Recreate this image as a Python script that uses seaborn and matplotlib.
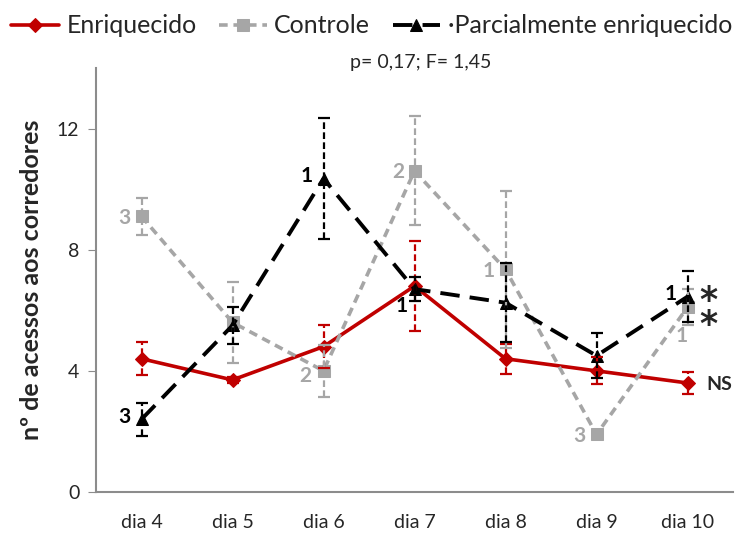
import numpy as np
import pandas as pd
import matplotlib
matplotlib.use('Agg')
import matplotlib.pyplot as plt
import seaborn as sns

sns.set_style('white')
plt.rcParams['font.family'] = ['Lato', 'DejaVu Sans']

# dados
dias = ['dia 4', 'dia 5', 'dia 6', 'dia 7', 'dia 8', 'dia 9', 'dia 10']
enriquecido = [4.4, 3.7, 4.8, 6.8, 4.4, 4.0, 3.6]
enriquecido_err = [0.55, 0.1, 0.7, 1.5, 0.5, 0.45, 0.35]
controle = [9.1, 5.6, 4.0, 10.6, 7.35, 1.9, 6.1]
controle_err = [0.6, 1.35, 0.85, 1.8, 2.6, 0.1, 0.6]
parcial = [2.4, 5.5, 10.35, 6.7, 6.25, 4.5, 6.45]
parcial_err = [0.55, 0.6, 2.0, 0.4, 1.3, 0.75, 0.85]

# rótulos numéricos junto aos pontos
controle_lab = ['3', '', '2', '2', '1', '3', '1']
parcial_lab = ['3', '', '1', '1', '', '', '1']

series = [
    ('Enriquecido', enriquecido, enriquecido_err, '#C00000', '-', 'D', 7, 2.6),
    ('Controle', controle, controle_err, '#A6A6A6', (0, (2.4, 1.6)), 's', 9, 2.6),
    ('·Parcialmente enriquecido', parcial, parcial_err, '#000000', (0, (5, 2.6)), '^', 9, 2.8),
]

fig = plt.figure(figsize=(7.41, 5.35), dpi=100)
ax = fig.add_axes([96 / 741, 1 - 492 / 535, (733 - 96) / 741, (492 - 68) / 535])

for name, vals, errs, cor, ls, mk, ms, lw in series:
    df = pd.DataFrame({'dia': dias, 'valor': vals})
    sns.lineplot(data=df, x='dia', y='valor', ax=ax, color=cor,
                 linewidth=lw, marker=mk, markersize=ms, markeredgecolor=cor,
                 label=name, sort=False)
    ax.lines[-1].set_linestyle(ls)
    eb = ax.errorbar(dias, vals, yerr=errs, fmt='none', ecolor=cor,
                     elinewidth=1.6, capsize=4, capthick=1.6, zorder=3)
    eb[2][0].set_linestyle((0, (3, 1.5)))

# anotações
cinza = '#A6A6A6'
for d, v, t in zip(dias, controle, controle_lab):
    if not t:
        continue
    if d == 'dia 10':
        off = (-4, -21)
    elif d == 'dia 6':
        off = (-13, -4)
    else:
        off = (-12, -1)
    ax.annotate(t, (d, v), xytext=off, textcoords='offset points',
                ha='center', va='center', color=cinza, fontsize=15, fontweight='bold')
for d, v, t in zip(dias, parcial, parcial_lab):
    if not t:
        continue
    if d == 'dia 7':
        off = (-9, -12)
    else:
        off = (-12, 2)
    ax.annotate(t, (d, v), xytext=off, textcoords='offset points',
                ha='center', va='center', color='black', fontsize=15, fontweight='bold')

ax.annotate('NS', ('dia 10', enriquecido[-1]), xytext=(23, -1), textcoords='offset points',
            ha='center', va='center', fontsize=14, fontweight='bold')
# os dois asteriscos num único texto
ax.annotate('*\n*', ('dia 10', parcial[-1]), xytext=(15, -12), textcoords='offset points',
            ha='center', va='center', fontsize=25, fontweight='bold', family='DejaVu Sans',
            linespacing=0.62)

ax.set_ylim(0, 14)
ax.set_xlim(-0.5, 6.5)
ax.set_yticks([0, 4, 8, 12])
ax.set_xlabel('')
ax.set_ylabel('nº de acessos aos corredores', fontsize=18, fontweight='bold', labelpad=10)
ax.tick_params(axis='y', labelsize=14, length=6, color='#8C8C8C', direction='out', left=True, pad=6)
ax.tick_params(axis='x', labelsize=14, length=0, pad=16)
for s in ['top', 'right']:
    ax.spines[s].set_visible(False)
for s in ['left', 'bottom']:
    ax.spines[s].set_color('#8C8C8C')
    ax.spines[s].set_linewidth(1.5)

ax.set_title('p= 0,17; F= 1,45', fontsize=14, pad=0, x=0.51)

h, l = ax.get_legend_handles_labels()
ax.get_legend().remove()
fig.legend(h, l, loc='upper left', bbox_to_anchor=(-0.015, 1.015), ncol=3, frameon=False,
           fontsize=18, handlelength=1.9, columnspacing=0.9, handletextpad=0.3)

fig.savefig('out.png', dpi=100)
